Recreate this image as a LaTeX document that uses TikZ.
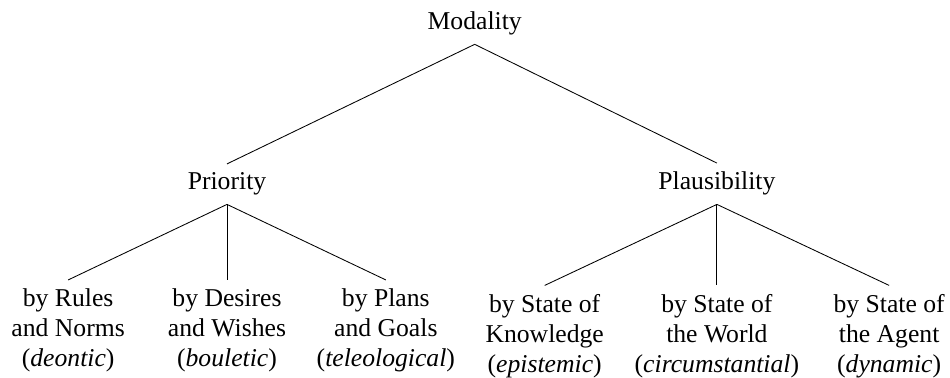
\documentclass[tikz,border=0pt]{standalone}
\usepackage{fontspec}
\setmainfont{Liberation Serif}
\usepackage{tikz}
\usetikzlibrary{positioning}
\tikzset{
  label/.style={font=\fontsize{12}{14}\selectfont,inner sep=4pt},
  leaf/.style={label,align=center,anchor=north},
}

\begin{document}
\begin{tikzpicture}
		  \useasboundingbox (0,0) rectangle (15.61,6.21);
		  %ROOT
		  \node[label,anchor=base] (mod) at (7.80,5.72) {Modality};
		  %LEVEL 1
		  \node[label,anchor=base] (prio) at (3.73,3.09) {Priority};
		  \node[label,anchor=base] (plaus) at (11.78,3.09) {Plausibility};
		  \draw (mod.south) -- (prio.north);
		  \draw (mod.south) -- (plaus.north);
		  %LEAVES PRIORITY
		  \foreach \x/\txt [count=\i] in {1.12/{by Rules\\and Norms\\(\textit{deontic})},
		                                  3.73/{by Desires\\and Wishes\\(\textit{bouletic})},
		                                  6.34/{by Plans\\and Goals\\(\textit{teleological})}}{
		  \node[leaf] (prio\i) at (\x,1.61) {\txt};
		  \draw (prio.south) -- (prio\i.north);
		  }
		  %LEAVES PLAUSIBILITY
		  \foreach \x/\txt [count=\i] in {8.95/{by State of\\Knowledge\\(\textit{epistemic})},
		                                  11.78/{by State of\\the World\\(\textit{circumstantial})},
		                                  14.61/{by State of\\the Agent\\(\textit{dynamic})}}{
		  \node[leaf] (plaus\i) at (\x,1.52) {\txt};
		  \draw (plaus.south) -- (plaus\i.north);
		  }
\end{tikzpicture}
\end{document}
